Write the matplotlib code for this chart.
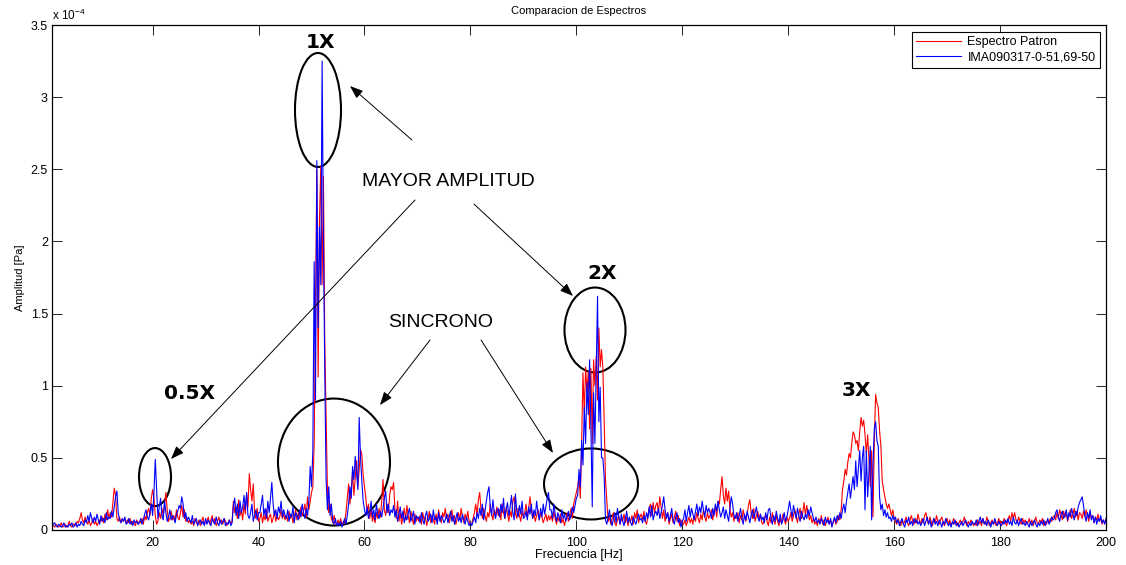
import numpy as np
import matplotlib
matplotlib.use("Agg")
import matplotlib.pyplot as plt
from matplotlib.patches import Ellipse

plt.rcParams['font.family'] = ['Liberation Sans', 'DejaVu Sans']
plt.rcParams['mathtext.fontset'] = 'custom'
plt.rcParams['mathtext.rm'] = 'Liberation Sans'
plt.rcParams['mathtext.default'] = 'regular'

# Spectral amplitudes in micro-Pascal, one value per 0.25 Hz bin.
# Each list holds one 50 Hz band; the first bin of a band sits at start + 0.25 Hz.
STEP = 0.25
BAND_STARTS = [0, 50, 100, 150]

patron_0_50 = [
    3, 5, 2, 4, 3, 2, 4, 3, 2, 3, 5, 2, 3, 4, 2, 3, 6, 3, 2, 4,
    4, 3, 6, 5, 8, 12, 7, 5, 9, 6, 4, 7, 3, 5, 8, 4, 6, 3, 5, 7,
    6, 9, 5, 11, 7, 14, 8, 12, 9, 19, 29, 24, 8, 6, 9, 5, 7, 6, 8, 5,
    7, 5, 8, 4, 6, 5, 3, 7, 4, 6, 5, 8, 4, 10, 7, 12, 15, 10, 22, 28,
    22, 10, 4, 6, 12, 8, 15, 10, 18, 26, 14, 6, 8, 13, 7, 10, 6, 14, 9, 7,
    12, 17, 9, 14, 6, 8, 5, 7, 4, 6, 3, 8, 5, 4, 7, 3, 6, 9, 4, 5,
    6, 9, 4, 7, 10, 5, 8, 3, 6, 9, 5, 7, 4, 8, 6, 3, 5, 7, 4, 6,
    20, 12, 16, 8, 21, 10, 14, 7, 18, 11, 25, 16, 39, 28, 20, 32, 12, 8, 15, 6,
    8, 12, 5, 10, 7, 14, 6, 9, 11, 5, 8, 13, 6, 10, 7, 9, 14, 8, 11, 7,
    10, 6, 13, 8, 11, 5, 9, 14, 7, 12, 8, 16, 10, 13, 18, 9, 23, 14, 20, 26,
]
patron_50_100 = [
    30, 60, 150, 250, 106, 215, 252, 170, 245, 130, 81, 28, 12, 18, 8, 5, 10, 6, 3, 7,
    4, 8, 3, 6, 5, 12, 22, 32, 18, 28, 40, 24, 36, 48, 30, 42, 56, 52, 38, 30,
    22, 12, 18, 8, 14, 6, 10, 5, 12, 8, 15, 9, 20, 35, 14, 10, 18, 12, 24, 30,
    28, 33, 14, 8, 20, 6, 12, 4, 9, 15, 7, 17, 10, 5, 13, 8, 4, 11, 6, 9,
    6, 10, 4, 12, 7, 9, 3, 8, 13, 5, 10, 7, 4, 11, 6, 14, 8, 5, 12, 9,
    15, 8, 11, 5, 9, 14, 6, 10, 4, 8, 12, 7, 15, 9, 5, 11, 7, 13, 6, 4,
    4, 8, 12, 18, 10, 21, 26, 14, 8, 15, 10, 6, 12, 9, 18, 11, 7, 14, 10, 16,
    10, 14, 7, 18, 12, 8, 16, 11, 6, 13, 9, 20, 23, 12, 8, 15, 10, 6, 13, 9,
    12, 18, 9, 15, 23, 14, 8, 11, 6, 10, 14, 7, 12, 9, 5, 8, 11, 6, 10, 7,
    10, 6, 13, 8, 4, 9, 6, 11, 5, 8, 3, 7, 12, 6, 10, 15, 8, 18, 22, 26,
]
patron_100_150 = [
    30, 37, 22, 60, 109, 80, 113, 95, 110, 70, 112, 60, 118, 100, 120, 90, 140, 113, 125, 113,
    76, 35, 20, 6, 9, 4, 8, 12, 5, 3, 7, 10, 4, 8, 6, 11, 5, 9, 3, 7,
    6, 10, 4, 12, 8, 14, 5, 9, 11, 7, 13, 6, 4, 9, 15, 18, 10, 19, 12, 17,
    19, 12, 23, 16, 8, 14, 6, 10, 12, 4, 8, 11, 5, 9, 13, 6, 10, 3, 7, 5,
    4, 7, 3, 6, 9, 5, 8, 4, 10, 6, 12, 8, 5, 11, 7, 14, 9, 6, 12, 8,
    10, 14, 7, 12, 16, 9, 20, 18, 28, 37, 24, 18, 29, 20, 27, 14, 9, 12, 6, 10,
    8, 12, 5, 10, 7, 14, 9, 6, 11, 17, 21, 12, 8, 15, 6, 10, 13, 7, 11, 5,
    4, 8, 11, 6, 3, 9, 5, 12, 7, 4, 10, 6, 3, 8, 5, 11, 7, 4, 9, 6,
    8, 12, 6, 10, 14, 9, 5, 11, 15, 8, 12, 19, 10, 17, 12, 7, 10, 5, 8, 4,
    6, 3, 8, 5, 10, 4, 7, 3, 6, 9, 4, 7, 3, 5, 8, 4, 6, 10, 7, 14,
]
patron_150_200 = [
    28, 34, 42, 38, 47, 53, 50, 60, 68, 66, 60, 62, 55, 68, 78, 72, 76, 66, 53, 66,
    48, 30, 55, 9, 60, 94, 88, 85, 69, 58, 34, 28, 23, 18, 15, 18, 14, 10, 14, 8,
    6, 4, 8, 5, 3, 7, 4, 6, 9, 5, 3, 7, 10, 6, 4, 8, 5, 11, 7, 4,
    8, 5, 10, 12, 7, 4, 9, 6, 3, 8, 5, 10, 6, 4, 7, 9, 5, 3, 6, 8,
    4, 7, 3, 5, 8, 4, 6, 3, 5, 7, 4, 6, 9, 5, 3, 6, 4, 7, 5, 3,
    5, 3, 7, 4, 6, 3, 8, 5, 4, 9, 6, 3, 5, 7, 4, 6, 3, 5, 8, 4,
    6, 4, 8, 5, 3, 7, 10, 6, 12, 8, 12, 7, 5, 9, 6, 4, 8, 5, 7, 4,
    5, 8, 4, 7, 3, 6, 9, 5, 4, 7, 5, 8, 3, 6, 4, 7, 5, 8, 6, 9,
    10, 7, 12, 8, 14, 11, 7, 13, 9, 12, 6, 10, 14, 8, 11, 15, 9, 13, 7, 12,
    11, 8, 13, 9, 14, 10, 6, 12, 8, 10, 5, 9, 7, 11, 6, 8, 4, 7, 5, 6,
]

ima_0_50 = [
    5, 3, 6, 2, 4, 5, 3, 2, 4, 3, 2, 3, 5, 2, 3, 2, 4, 3, 5, 2,
    3, 5, 2, 4, 3, 6, 4, 3, 7, 5, 10, 6, 12, 8, 5, 9, 6, 11, 7, 4,
    10, 6, 8, 5, 12, 7, 9, 8, 13, 9, 16, 23, 27, 12, 7, 5, 8, 6, 9, 4,
    5, 8, 4, 6, 3, 7, 5, 6, 4, 5, 8, 4, 7, 11, 14, 9, 7, 12, 18, 10,
    26, 49, 28, 8, 16, 22, 10, 7, 20, 12, 6, 9, 14, 7, 10, 8, 5, 11, 13, 17,
    15, 23, 18, 8, 12, 6, 9, 7, 5, 10, 4, 6, 8, 3, 5, 7, 4, 6, 3, 8,
    4, 7, 5, 3, 8, 6, 4, 9, 5, 3, 7, 4, 6, 8, 3, 5, 4, 7, 3, 5,
    17, 22, 10, 18, 8, 20, 12, 16, 24, 14, 26, 10, 8, 12, 18, 6, 10, 14, 7, 12,
    12, 18, 24, 10, 15, 8, 20, 12, 22, 33, 18, 10, 14, 8, 16, 12, 20, 9, 14, 10,
    8, 14, 6, 11, 9, 16, 5, 12, 10, 7, 14, 9, 18, 12, 8, 15, 10, 20, 44, 30,
]
ima_50_100 = [
    55, 186, 90, 256, 140, 210, 170, 325, 200, 110, 35, 14, 30, 10, 18, 6, 4, 8, 3, 5,
    3, 6, 2, 5, 8, 4, 10, 18, 30, 22, 44, 35, 51, 40, 28, 78, 50, 34, 20, 14,
    10, 16, 8, 12, 20, 9, 14, 7, 18, 11, 8, 13, 9, 15, 22, 27, 12, 18, 10, 14,
    12, 17, 9, 14, 6, 11, 16, 8, 13, 5, 10, 7, 12, 15, 6, 9, 13, 4, 10, 8,
    9, 5, 12, 7, 4, 10, 13, 6, 8, 11, 5, 14, 7, 9, 4, 12, 6, 10, 8, 5,
    7, 11, 5, 9, 13, 6, 10, 4, 8, 12, 6, 9, 5, 11, 7, 4, 9, 6, 3, 5,
    3, 6, 9, 5, 12, 8, 15, 10, 18, 7, 13, 20, 26, 30, 16, 10, 21, 12, 8, 14,
    15, 9, 18, 12, 22, 8, 14, 19, 10, 16, 24, 12, 7, 25, 13, 9, 17, 11, 20, 8,
    9, 13, 7, 16, 11, 18, 8, 14, 10, 20, 12, 7, 15, 9, 18, 11, 16, 22, 26, 14,
    14, 8, 18, 11, 6, 12, 9, 5, 14, 8, 11, 6, 9, 13, 7, 10, 16, 12, 17, 22,
]
ima_100_150 = [
    24, 42, 30, 62, 45, 85, 60, 102, 80, 118, 70, 16, 95, 60, 110, 162, 75, 99, 50, 50,
    37, 7, 4, 9, 14, 6, 3, 8, 12, 5, 15, 9, 4, 11, 6, 3, 8, 13, 5, 9,
    5, 3, 9, 6, 4, 8, 11, 7, 8, 5, 10, 6, 12, 8, 16, 9, 17, 7, 11, 13,
    10, 15, 8, 12, 17, 23, 14, 8, 12, 6, 10, 15, 7, 4, 9, 12, 5, 8, 2, 6,
    8, 14, 6, 12, 17, 9, 15, 11, 7, 13, 18, 10, 16, 12, 20, 14, 9, 17, 12, 15,
    12, 8, 15, 10, 18, 13, 20, 14, 9, 12, 16, 8, 14, 10, 6, 15, 23, 18, 10, 8,
    12, 6, 10, 15, 8, 4, 11, 7, 13, 9, 5, 10, 14, 8, 12, 16, 9, 6, 11, 7,
    9, 5, 12, 7, 14, 15, 8, 4, 10, 6, 13, 8, 5, 11, 4, 7, 12, 6, 9, 14,
    20, 14, 9, 17, 12, 8, 15, 10, 6, 13, 9, 7, 11, 8, 14, 10, 16, 12, 8, 6,
    9, 5, 7, 4, 8, 6, 3, 9, 5, 7, 4, 8, 2, 6, 9, 5, 10, 7, 12, 8,
]
ima_150_200 = [
    14, 18, 12, 20, 26, 32, 22, 30, 37, 28, 48, 30, 42, 55, 34, 50, 58, 14, 55, 23,
    40, 58, 7, 45, 70, 75, 62, 58, 23, 14, 18, 10, 14, 9, 12, 8, 9, 6, 10, 7,
    9, 5, 7, 3, 6, 8, 4, 2, 7, 5, 9, 4, 6, 3, 8, 5, 7, 4, 6, 3,
    5, 8, 3, 6, 9, 4, 7, 2, 5, 8, 4, 6, 3, 7, 5, 2, 6, 4, 8, 5,
    3, 5, 2, 6, 4, 7, 3, 5, 2, 4, 6, 3, 5, 7, 4, 2, 5, 3, 6, 4,
    4, 7, 3, 6, 9, 5, 8, 4, 6, 3, 7, 5, 2, 6, 4, 8, 5, 3, 6, 4,
    3, 6, 4, 7, 5, 8, 4, 6, 3, 9, 5, 4, 7, 3, 6, 8, 4, 5, 3, 6,
    4, 2, 6, 3, 5, 7, 4, 2, 5, 3, 6, 4, 7, 3, 5, 8, 4, 6, 9, 7,
    8, 12, 14, 9, 6, 11, 13, 8, 10, 14, 7, 12, 9, 15, 11, 7, 13, 10, 16, 19,
    21, 23, 17, 10, 6, 12, 8, 14, 7, 10, 5, 9, 4, 8, 6, 10, 5, 7, 4, 8,
]

series_labels = ['Espectro Patron', 'IMA090317-0-51,69-50']
series_colors = ['#ff0000', '#0000ff']
x_ticks = list(range(20, 201, 20))
y_ticks = [0, 0.5, 1, 1.5, 2, 2.5, 3, 3.5]
y_tick_labels = ['0', '0.5', '1', '1.5', '2', '2.5', '3', '3.5']


def build_spectrum(*bands):
    freqs, amps = [], []
    for start, vals in zip(BAND_STARTS, bands):
        freqs.append(start + STEP * np.arange(1, len(vals) + 1))
        amps.append(np.asarray(vals, dtype=float))
    return np.concatenate(freqs), np.concatenate(amps) * 1e-6  # Pa


f_pat, a_pat = build_spectrum(patron_0_50, patron_50_100, patron_100_150, patron_150_200)
f_ima, a_ima = build_spectrum(ima_0_50, ima_50_100, ima_100_150, ima_150_200)

SCALE = 1e-4  # axis shows amplitudes in units of 1e-4 Pa

fig = plt.figure(figsize=(11.26, 5.65), dpi=100)
ax = fig.add_axes([52 / 1126, 35 / 565, 1054 / 1126, 505 / 565])

ax.plot(f_pat, a_pat / SCALE, color=series_colors[0], lw=0.8, label=series_labels[0])
ax.plot(f_ima, a_ima / SCALE, color=series_colors[1], lw=0.8, label=series_labels[1])

ax.set_xlim(1, 200)
ax.set_ylim(0, 3.5)
ax.set_xticks(x_ticks)
ax.set_xticklabels([str(t) for t in x_ticks])
ax.set_yticks(y_ticks)
ax.set_yticklabels(y_tick_labels)
ax.tick_params(direction='in', top=True, right=True, length=7, width=0.6,
               labelsize=9, pad=3, colors='k')
ax.tick_params(axis='x', pad=5)
for sp in ax.spines.values():
    sp.set_linewidth(0.9)
    sp.set_color('k')

ax.set_title('Comparacion de Espectros', fontsize=8, pad=8)
ax.set_xlabel('Frecuencia [Hz]', fontsize=9, labelpad=0)
ax.set_ylabel('Amplitud [Pa]', fontsize=8, labelpad=4)
ax.text(0.0, 1.004, 'x 10$^{-4}$', transform=ax.transAxes, fontsize=8.5,
        ha='left', va='bottom')

leg = ax.legend(loc='upper right', bbox_to_anchor=(0.9943, 0.986), fontsize=9,
                frameon=True, fancybox=False, edgecolor='k', framealpha=1,
                borderaxespad=0, handlelength=3.6, handletextpad=0.5,
                borderpad=0.35, labelspacing=0.25)
leg.get_frame().set_linewidth(0.8)

# Harmonic markers
ring_kw = dict(fill=False, ec='k', lw=1.5, clip_on=False)
ax.add_patch(Ellipse((51.22, 2.911), 8.69, 0.790, **ring_kw))    # 1X
ax.add_patch(Ellipse((20.45, 0.367), 6.04, 0.402, **ring_kw))    # 0.5X
ax.add_patch(Ellipse((103.52, 1.386), 11.52, 0.589, **ring_kw))  # 2X
ax.add_patch(Ellipse((54.24, 0.471), 21.15, 0.880, **ring_kw))   # synchronous, 1X base
ax.add_patch(Ellipse((102.77, 0.319), 17.75, 0.492, **ring_kw))  # synchronous, 2X base

tag_kw = dict(ha='center', va='center', fontsize=14.5, fontweight='heavy',
              family='DejaVu Sans', color='k')
ax.text(51.6, 3.382, '1X', **tag_kw)
ax.text(104.84, 1.781, '2X', **tag_kw)
ax.text(152.8, 0.970, '3X', **tag_kw)
ax.text(27.05, 0.949, '0.5X', **tag_kw)

ax.text(75.77, 2.412, 'MAYOR AMPLITUD', ha='center', va='center', fontsize=14)
ax.text(74.44, 1.435, 'SINCRONO', ha='center', va='center', fontsize=14)

arrow_kw = dict(arrowstyle='-|>,head_length=0.8,head_width=0.3', color='k',
                lw=0.7, shrinkA=0, shrinkB=0, mutation_scale=10)
arrows = [
    ((68.97, 2.703), (57.26, 3.077)),
    ((69.54, 2.287), (23.47, 0.492)),
    ((80.67, 2.259), (99.37, 1.622)),
    ((72.37, 1.317), (62.93, 0.866)),
    ((82.00, 1.317), (95.59, 0.534)),
]
for tail, head in arrows:
    ax.annotate('', xy=head, xytext=tail, arrowprops=arrow_kw)

fig.savefig('out.png', dpi=100, facecolor='white')
